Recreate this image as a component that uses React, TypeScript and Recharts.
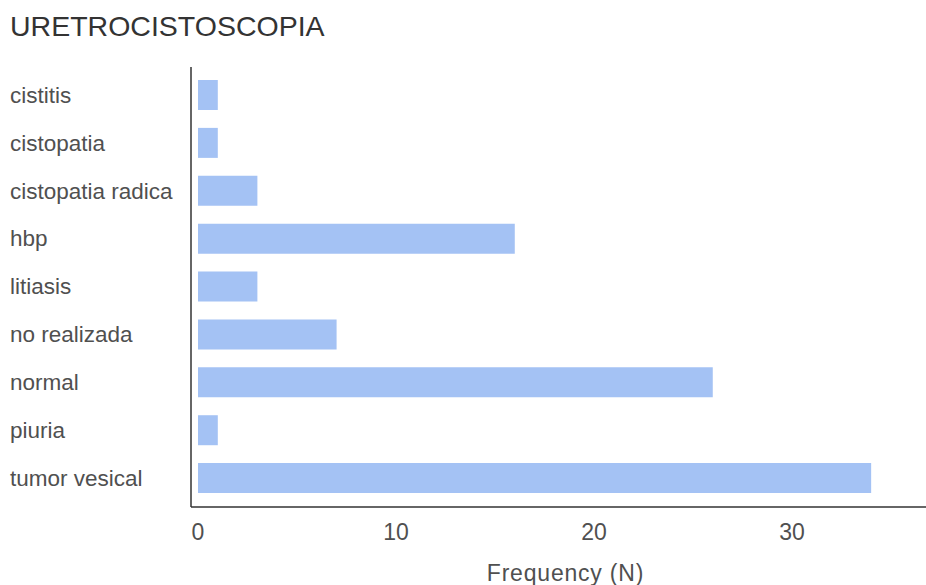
import React from 'react';
import { BarChart, Bar, XAxis, YAxis } from 'recharts';

const categories = [
  'cistitis',
  'cistopatia',
  'cistopatia radica',
  'hbp',
  'litiasis',
  'no realizada',
  'normal',
  'piuria',
  'tumor vesical',
];
const frequencies = [1, 1, 3, 16, 3, 7, 26, 1, 34];
const xTicks = [0, 10, 20, 30];

const data = categories.map((name, i) => ({ name, value: frequencies[i] }));

const FONT = '"Liberation Sans", Arial, sans-serif';
const TEXT = '#505050';

const CategoryTick = ({ y, payload }: any) => (
  <text x={10} y={y} dy="0.35em" textAnchor="start" fontSize={22.5} fill={TEXT} fontFamily={FONT}>
    {payload.value}
  </text>
);

export default function App() {
  return (
    <div style={{ position: 'absolute', left: 0, top: 0, width: 926, height: 585, background: '#fff', fontFamily: FONT }}>
      <div
        style={{
          position: 'absolute',
          left: 10,
          top: 12,
          fontSize: 28.5,
          lineHeight: '29px',
          color: '#333',
        }}
      >
        URETROCISTOSCOPIA
      </div>
      <BarChart
        width={926}
        height={585}
        data={data}
        layout="vertical"
        margin={{ top: 67, right: 0, bottom: 0, left: 0 }}
      >
        <XAxis
          type="number"
          domain={[0, 36.77]}
          ticks={xTicks}
          allowDataOverflow
          padding={{ left: 7 }}
          height={78}
          axisLine={{ stroke: '#333', strokeWidth: 1.5 }}
          tickLine={false}
          tickMargin={11}
          tick={{ fontSize: 23, fill: TEXT, fontFamily: FONT }}
          label={{
            value: 'Frequency (N)',
            position: 'insideBottom',
            offset: 4,
            dx: 7,
            fontSize: 23,
            fill: TEXT,
            fontFamily: FONT,
            letterSpacing: 0.8,
          }}
        />
        <YAxis
          type="category"
          dataKey="name"
          width={191}
          padding={{ top: 4, bottom: 5 }}
          axisLine={{ stroke: '#333', strokeWidth: 1.5 }}
          tickLine={false}
          tick={<CategoryTick />}
          interval={0}
        />
        <Bar dataKey="value" fill="#a4c2f4" barSize={30} isAnimationActive={false} />
      </BarChart>
    </div>
  );
}
